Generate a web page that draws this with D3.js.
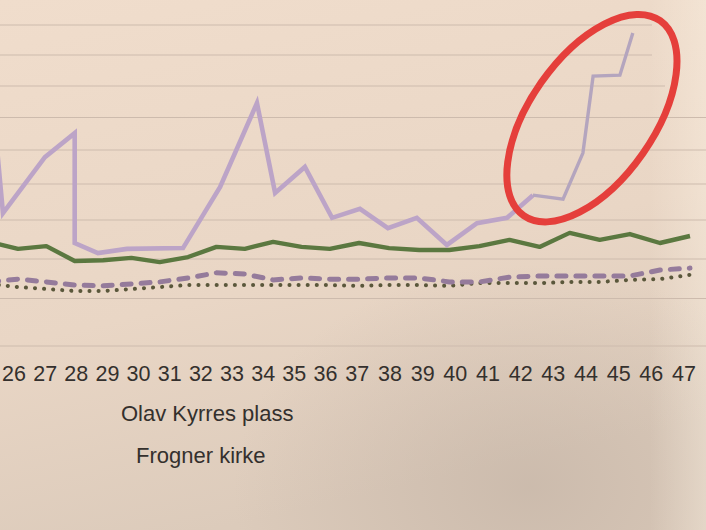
<!DOCTYPE html>
<html>
<head>
<meta charset="utf-8">
<script src="https://cdn.jsdelivr.net/npm/d3@7"></script>
<style>
  html, body { margin: 0; padding: 0; background: #ead7c5; }
  svg { display: block; }
</style>
</head>
<body>
<svg id="chart" width="706" height="530"></svg>
<script>
// ---- data ----
const weekLabels = ["26","27","28","29","30","31","32","33","34","35","36","37","38","39","40","41","42","43","44","45","46","47"];
const weeks = d3.range(23, 48); // weekly series, weeks 23..47 (left part cut by the photo)
const greenValues  = [24.4,22.6,23.3,19.5,19.7,20.3,19.2,20.5,23.1,22.6,24.4,23.1,22.6,24.1,22.8,22.3,22.3,23.3,24.9,23.1,26.7,24.9,26.4,24.1,25.9];
const dashedValues = [14.2,14.9,14.2,13.4,13.2,13.7,14.2,15.2,16.5,16.2,14.7,15.2,14.9,14.9,15.2,15.2,14.2,14.2,15.4,15.7,15.7,15.7,15.7,17.2,17.7];
const dottedValues = [13.7,12.9,12.4,11.9,11.9,12.4,12.9,13.4,13.4,13.4,13.4,13.4,13.4,13.2,13.4,13.4,13.2,13.9,13.9,13.9,14.2,14.2,14.7,14.9,16.0];
// irregularly sampled series (sampling dates expressed in weeks)
const purpleWeeks  = [23.2,23.47,24.95,26.0,26.0,26.82,27.84,29.82,31.13,32.43,33.07,34.12,35.08,36.03,36.96,37.92,38.92,39.92,40.92,41.78,42.78,43.44,43.78,44.67,45.1];
const purpleValues = [56.2,31.9,47.9,55.2,24.1,21.5,22.6,22.8,39.2,64.6,37.5,45.0,30.6,33.1,27.9,30.6,23.6,29.2,30.6,36.9,35.8,49.1,73.2,73.5,87.3];
const gridValues = d3.range(0, 100, 10);
const legendNames = ["Olav Kyrres plass", "Frogner kirke"];
const highlight = { week: 43.74, value: 59.8 };

// ---- layout ----
const W = 706, H = 530;
const svg = d3.select("#chart");

// paper background with shading
const defs = svg.append("defs");
const g1 = defs.append("linearGradient").attr("id","paper").attr("x1","0").attr("y1","0").attr("x2","0.3").attr("y2","1");
g1.append("stop").attr("offset","0").attr("stop-color","#f0ddcc");
g1.append("stop").attr("offset","0.6").attr("stop-color","#e9d6c5");
g1.append("stop").attr("offset","1").attr("stop-color","#dccbbb");
const g2 = defs.append("radialGradient").attr("id","shade").attr("cx","0.75").attr("cy","0.92").attr("r","0.42");
g2.append("stop").attr("offset","0").attr("stop-color","#b8a89b").attr("stop-opacity",0.45);
g2.append("stop").attr("offset","1").attr("stop-color","#b8a89b").attr("stop-opacity",0);
const g3 = defs.append("linearGradient").attr("id","edge").attr("x1","0").attr("y1","0").attr("x2","1").attr("y2","0");
g3.append("stop").attr("offset","0.92").attr("stop-color","#fff6e8").attr("stop-opacity",0);
g3.append("stop").attr("offset","1").attr("stop-color","#fff6e8").attr("stop-opacity",0.35);
svg.append("rect").attr("width",W).attr("height",H).attr("fill","url(#paper)");
svg.append("rect").attr("width",W).attr("height",H).attr("fill","url(#shade)");
svg.append("rect").attr("width",W).attr("height",H).attr("fill","url(#edge)");

// scales (polylinear to follow the photographed page)
const x = d3.scaleLinear().domain([24, 35.5, 47]).range([18, 344, 690]);
const xLabel = d3.scaleLinear().domain([26, 36.5, 47]).range([14, 341, 684]);
const y = d3.scaleLinear().domain(gridValues).range([346, 298.5, 259, 220, 184, 150, 117.5, 86, 55, 25]);

// gridlines
svg.append("g").selectAll("line").data(gridValues).join("line")
  .attr("x1", 0).attr("x2", d => d >= 80 ? 652 : (d >= 70 ? 665 : W))
  .attr("y1", d => y(d)).attr("y2", d => y(d))
  .attr("stroke", "#cdbbad").attr("stroke-width", 1.1);

// x labels
svg.append("g").selectAll("text").data(weekLabels).join("text")
  .attr("x", d => xLabel(+d)).attr("y", 381)
  .attr("text-anchor", "middle")
  .attr("font-family", "Liberation Sans, Arial, sans-serif")
  .attr("font-size", 21.5)
  .attr("fill", "#34302d")
  .text(d => d);

const clip = defs.append("clipPath").attr("id","plot");
clip.append("rect").attr("x",0).attr("y",0).attr("width",W).attr("height",350);
const plot = svg.append("g").attr("clip-path","url(#plot)");

const line = d3.line().x(d => x(d[0])).y(d => y(d[1]));

// dotted
plot.append("path")
  .datum(weeks.map((w,i) => [w, dottedValues[i]]))
  .attr("d", line).attr("fill","none")
  .attr("stroke","#5a573b").attr("stroke-width",4)
  .attr("stroke-linecap","round").attr("stroke-dasharray","0.1 9");
// dashed
plot.append("path")
  .datum(weeks.map((w,i) => [w, dashedValues[i]]))
  .attr("d", line).attr("fill","none")
  .attr("stroke","#957b9b").attr("stroke-width",5)
  .attr("stroke-linecap","round")
  .attr("stroke-dasharray","9 10");
// green
plot.append("path")
  .datum(weeks.map((w,i) => [w, greenValues[i]]))
  .attr("d", line).attr("fill","none")
  .attr("stroke","#5b7840").attr("stroke-width",4.4)
  .attr("stroke-linejoin","round");
// purple
const purple = purpleWeeks.map((w,i) => [w, purpleValues[i]]);
const split = 19;
plot.append("path")
  .datum(purple.slice(0, split + 1))
  .attr("d", line).attr("fill","none")
  .attr("stroke","#bca4c7").attr("stroke-width",4.6)
  .attr("stroke-linejoin","miter");
plot.append("path")
  .datum(purple.slice(split))
  .attr("d", line).attr("fill","none")
  .attr("stroke","#b4a5be").attr("stroke-width",3.4)
  .attr("stroke-linejoin","miter");

// red highlight ellipse
const cx = x(highlight.week), cy = y(highlight.value);
svg.append("ellipse")
  .attr("cx", cx).attr("cy", cy).attr("rx", 119).attr("ry", 62)
  .attr("transform", `rotate(-55, ${cx}, ${cy})`)
  .attr("fill","none").attr("stroke","#e53f3b").attr("stroke-width",7);

// legend (text only, as in the photo)
svg.append("g").selectAll("text").data(legendNames).join("text")
  .attr("x", (d,i) => i === 0 ? 121 : 136)
  .attr("y", (d,i) => i === 0 ? 421 : 463)
  .attr("font-family", "Liberation Sans, Arial, sans-serif")
  .attr("font-size", 22)
  .attr("fill", "#34302d")
  .text(d => d);
</script>
</body>
</html>
